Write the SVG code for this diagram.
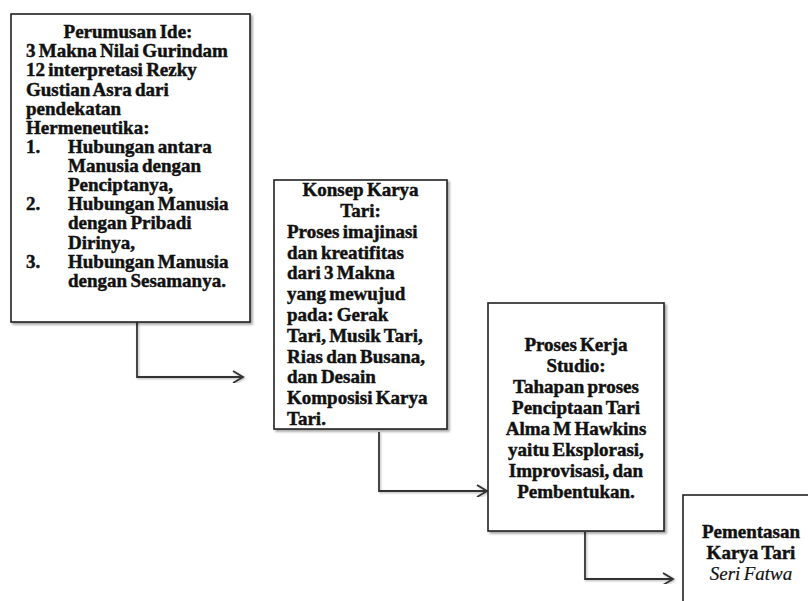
<svg xmlns="http://www.w3.org/2000/svg" width="808" height="601" viewBox="0 0 808 601">
<style>
.box{fill:#fff;stroke:#222;stroke-width:1.6;filter:url(#sh)}
.t{font-family:"Liberation Serif","Times New Roman",serif;font-weight:bold;fill:#111;stroke:#111;stroke-width:0.45;word-spacing:-1.5px}
.c{text-anchor:middle}
.conn{fill:none;stroke:#333;stroke-width:1.8;filter:url(#sh2)}
</style>
<defs>
<filter id="sh" x="-10%" y="-10%" width="120%" height="120%">
<feDropShadow dx="2" dy="2" stdDeviation="1.2" flood-color="#000" flood-opacity="0.35"/>
</filter>
<filter id="sh2" x="-10%" y="-10%" width="120%" height="120%">
<feDropShadow dx="1" dy="1" stdDeviation="0.8" flood-color="#000" flood-opacity="0.3"/>
</filter>
<marker id="arr" markerWidth="14" markerHeight="14" refX="11" refY="7" orient="auto" markerUnits="userSpaceOnUse">
<path d="M1,1 L11,7 L1,13" fill="none" stroke="#333" stroke-width="1.8"/>
</marker>
</defs>
<rect width="808" height="601" fill="#fff"/>

<g id="connectors">
<path class="conn" d="M137,322 V377 H243" marker-end="url(#arr)"/>
<path class="conn" d="M379,432 V491 H487" marker-end="url(#arr)"/>
<path class="conn" d="M585,532 V579 H673" marker-end="url(#arr)"/>
</g>

<g id="node1">
<rect class="box" x="11" y="14" width="239" height="308"/>
<g class="t" font-size="19">
<text x="128" y="38" class="c">Perumusan Ide:</text>
<text x="26" y="57">3 Makna Nilai Gurindam</text>
<text x="26" y="76">12 interpretasi Rezky</text>
<text x="26" y="96">Gustian Asra dari</text>
<text x="26" y="115">pendekatan</text>
<text x="26" y="134">Hermeneutika:</text>
<text x="26" y="153">1.</text>
<text x="68" y="153">Hubungan antara</text>
<text x="68" y="172">Manusia dengan</text>
<text x="68" y="191">Penciptanya,</text>
<text x="26" y="210">2.</text>
<text x="68" y="210">Hubungan Manusia</text>
<text x="68" y="229">dengan Pribadi</text>
<text x="68" y="249">Dirinya,</text>
<text x="26" y="268">3.</text>
<text x="68" y="268">Hubungan Manusia</text>
<text x="68" y="287">dengan Sesamanya.</text>
</g>
</g>

<g id="node2">
<rect class="box" x="274" y="180" width="173" height="249"/>
<g class="t" font-size="19">
<text x="360.5" y="196" class="c">Konsep Karya</text>
<text x="360.5" y="217" class="c">Tari:</text>
<text x="287" y="238">Proses imajinasi</text>
<text x="287" y="259">dan kreatifitas</text>
<text x="287" y="279">dari 3 Makna</text>
<text x="287" y="300">yang mewujud</text>
<text x="287" y="321">pada: Gerak</text>
<text x="287" y="342">Tari, Musik Tari,</text>
<text x="287" y="363">Rias dan Busana,</text>
<text x="287" y="383">dan Desain</text>
<text x="287" y="404">Komposisi Karya</text>
<text x="287" y="425">Tari.</text>
</g>
</g>

<g id="node3">
<rect class="box" x="488" y="303" width="176" height="228"/>
<g class="t c" font-size="19" word-spacing="0">
<text x="576" y="351">Proses Kerja</text>
<text x="576" y="372">Studio:</text>
<text x="576" y="393">Tahapan proses</text>
<text x="576" y="414">Penciptaan Tari</text>
<text x="576" y="435">Alma M Hawkins</text>
<text x="576" y="456">yaitu Eksplorasi,</text>
<text x="576" y="477">Improvisasi, dan</text>
<text x="576" y="498">Pembentukan.</text>
</g>
</g>

<g id="node4">
<rect class="box" x="683" y="495" width="150" height="130"/>
<g class="t c" font-size="19">
<text x="751" y="538">Pementasan</text>
<text x="751" y="559">Karya Tari</text>
<text x="751" y="580" font-weight="normal" font-style="italic" stroke-width="0.2">Seri Fatwa</text>
</g>
</g>
</svg>
